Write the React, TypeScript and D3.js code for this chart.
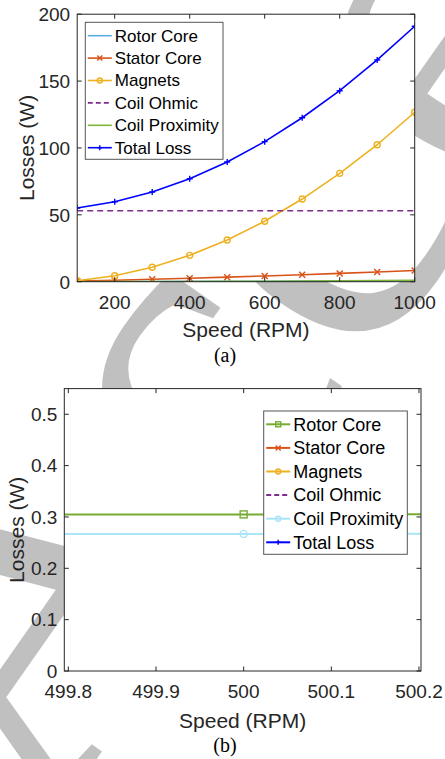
import React from 'react';
import * as d3 from 'd3';

// Speed sweep (RPM) and loss components (W)
const speedRpm = [100, 200, 300, 400, 500, 600, 700, 800, 900, 1000];
const rotorCore = [0.04, 0.1, 0.17, 0.24, 0.305, 0.38, 0.46, 0.55, 0.64, 0.74];
const statorCore = [0.5, 1.1, 1.8, 2.6, 3.4, 4.3, 5.2, 6.2, 7.2, 8.4];
const magnets = [0.75, 4.5, 10.8, 19.7, 31.2, 45.2, 61.8, 81.0, 102.4, 126.7];
const coilOhmic = [53.1, 53.1, 53.1, 53.1, 53.1, 53.1, 53.1, 53.1, 53.1, 53.1];
const coilProximity = [0.011, 0.043, 0.096, 0.171, 0.267, 0.384, 0.523, 0.683, 0.865, 1.068];
const totalLoss = [55.1, 59.8, 67.1, 77.0, 89.5, 104.7, 122.6, 142.8, 165.8, 191.0];

const seriesNames = ['Rotor Core', 'Stator Core', 'Magnets', 'Coil Ohmic', 'Coil Proximity', 'Total Loss'];
const seriesValues = [rotorCore, statorCore, magnets, coilOhmic, coilProximity, totalLoss];

// Tick values and labels
const xTicksA = [200, 400, 600, 800, 1000];
const xLabelsA = ['200', '400', '600', '800', '1000'];
const yTicksA = [0, 50, 100, 150, 200];
const yLabelsA = ['0', '50', '100', '150', '200'];
const xTicksB = [499.8, 499.9, 500, 500.1, 500.2];
const xLabelsB = ['499.8', '499.9', '500', '500.1', '500.2'];
const yTicksB = [0, 0.1, 0.2, 0.3, 0.4, 0.5];
const yLabelsB = ['0', '0.1', '0.2', '0.3', '0.4', '0.5'];

type Marker = 'none' | 'x' | 'o' | '+' | 's';
interface Style { color: string; marker: Marker; dash?: string; }

const stylesA: Style[] = [
  { color: '#5AAFE0', marker: 'none' },
  { color: '#D95319', marker: 'x' },
  { color: '#EDB120', marker: 'o' },
  { color: '#7E2F8E', marker: 'none', dash: '6,4' },
  { color: '#7FB73A', marker: 'none' },
  { color: '#0000FF', marker: '+' },
];
const stylesB: Style[] = [
  { color: '#77AC30', marker: 's' },
  { color: '#D95319', marker: 'x' },
  { color: '#EDB120', marker: 'o' },
  { color: '#7E2F8E', marker: 'none', dash: '6,4' },
  { color: '#A9E5F7', marker: 'o' },
  { color: '#0000FF', marker: '+' },
];

const AXIS = '#262626';
const FONT = '"Liberation Sans", Arial, Helvetica, sans-serif';

function MarkerGlyph({ m, x, y, color, size }: { m: Marker; x: number; y: number; color: string; size: number }) {
  const h = size / 2;
  if (m === 'x')
    return (
      <g stroke={color} strokeWidth={1.4}>
        <line x1={x - h} y1={y - h} x2={x + h} y2={y + h} />
        <line x1={x - h} y1={y + h} x2={x + h} y2={y - h} />
      </g>
    );
  if (m === '+')
    return (
      <g stroke={color} strokeWidth={1.4}>
        <line x1={x - h} y1={y} x2={x + h} y2={y} />
        <line x1={x} y1={y - h} x2={x} y2={y + h} />
      </g>
    );
  if (m === 'o') return <circle cx={x} cy={y} r={h} fill="none" stroke={color} strokeWidth={1.4} />;
  if (m === 's') return <rect x={x - h} y={y - h} width={size} height={size} fill="none" stroke={color} strokeWidth={1.4} />;
  return null;
}

interface PanelProps {
  id: string;
  left: number; right: number; top: number; bottom: number;
  xDomain: [number, number]; yDomain: [number, number];
  xTicks: number[]; xLabels: string[]; yTicks: number[]; yLabels: string[];
  styles: Style[]; lineWidth: number; markerSize: number;
  legend: { x: number; y: number; w: number; h: number; row0: number; step: number; font: number };
  yLabelX: number; xLabelY: number; caption: string; captionX: number; captionY: number;
}

function Panel(p: PanelProps) {
  const x = d3.scaleLinear().domain(p.xDomain).range([p.left, p.right]);
  const y = d3.scaleLinear().domain(p.yDomain).range([p.bottom, p.top]);
  const line = d3.line<number>().x((_, i) => x(speedRpm[i])).y((v) => y(v));
  const tick = 4.5;
  const cx = (p.left + p.right) / 2;
  const cy = (p.top + p.bottom) / 2;
  return (
    <g>
      <defs>
        <clipPath id={`clip-${p.id}`}>
          <rect x={p.left} y={p.top} width={p.right - p.left} height={p.bottom - p.top} />
        </clipPath>
      </defs>
      <rect x={p.left} y={p.top} width={p.right - p.left} height={p.bottom - p.top} fill="#fff" />
      <g clipPath={`url(#clip-${p.id})`}>
        {seriesValues.map((vals, si) => {
          const st = p.styles[si];
          return (
            <g key={si}>
              <path d={line(vals) || ''} fill="none" stroke={st.color} strokeWidth={p.lineWidth} strokeDasharray={st.dash} />
              {st.marker !== 'none' &&
                vals.map((v, i) => (
                  <MarkerGlyph key={i} m={st.marker} x={x(speedRpm[i])} y={y(v)} color={st.color} size={p.markerSize} />
                ))}
            </g>
          );
        })}
      </g>
      {/* axes box and inward ticks */}
      <rect x={p.left} y={p.top} width={p.right - p.left} height={p.bottom - p.top} fill="none" stroke={AXIS} strokeWidth={1} />
      {p.xTicks.map((t, i) => (
        <g key={`xt${i}`}>
          <line x1={x(t)} x2={x(t)} y1={p.bottom} y2={p.bottom - tick} stroke={AXIS} />
          <line x1={x(t)} x2={x(t)} y1={p.top} y2={p.top + tick} stroke={AXIS} />
          <text x={x(t)} y={p.bottom + 27} textAnchor="middle" fontFamily={FONT} fontSize={19} fill={AXIS}>
            {p.xLabels[i]}
          </text>
        </g>
      ))}
      {p.yTicks.map((t, i) => (
        <g key={`yt${i}`}>
          <line x1={p.left} x2={p.left + tick} y1={y(t)} y2={y(t)} stroke={AXIS} />
          <line x1={p.right} x2={p.right - tick} y1={y(t)} y2={y(t)} stroke={AXIS} />
          <text x={p.left - 7} y={y(t) + 6.8} textAnchor="end" fontFamily={FONT} fontSize={19} fill={AXIS}>
            {p.yLabels[i]}
          </text>
        </g>
      ))}
      <text x={cx} y={p.xLabelY} textAnchor="middle" fontFamily={FONT} fontSize={21} fill={AXIS}>
        Speed (RPM)
      </text>
      <text transform={`translate(${p.yLabelX},${cy}) rotate(-90)`} textAnchor="middle" fontFamily={FONT} fontSize={21} fill={AXIS}>
        Losses (W)
      </text>
      {/* legend */}
      <rect x={p.legend.x} y={p.legend.y} width={p.legend.w} height={p.legend.h} fill="#fff" stroke="#555" strokeWidth={1} />
      {seriesNames.map((name, i) => {
        const st = p.styles[i];
        const ry = p.legend.y + p.legend.row0 + i * p.legend.step;
        const lx0 = p.legend.x + 2.5;
        const lx1 = lx0 + 24;
        return (
          <g key={`lg${i}`}>
            <line x1={lx0} x2={lx1} y1={ry} y2={ry} stroke={st.color} strokeWidth={p.lineWidth} strokeDasharray={st.dash ? '5,3' : undefined} />
            {st.marker !== 'none' && <MarkerGlyph m={st.marker} x={(lx0 + lx1) / 2} y={ry} color={st.color} size={5} />}
            <text x={lx1 + 3} y={ry + p.legend.font * 0.35} fontFamily={FONT} fontSize={p.legend.font} fill="#000">
              {name}
            </text>
          </g>
        );
      })}
      <text x={p.captionX} y={p.captionY} textAnchor="middle" fontFamily='"Liberation Serif", "Times New Roman", serif' fontSize={20} fill="#000">
        {p.caption}
      </text>
    </g>
  );
}

export default function App() {
  return (
    <svg width={445} height={759} style={{ position: 'absolute', left: 0, top: 0, background: '#fff' }}>
      <rect width={445} height={759} fill="#fff" />
      {/* page watermark, sits behind both axes */}
      <text
        transform="translate(40,840) rotate(-55)"
        fontFamily='"Liberation Serif", "Times New Roman", serif'
        fontSize={480}
        fill="#c0c0c0"
      >
        Accepted Manuscript
      </text>
      <Panel
        id="a"
        left={77.2} right={414.7} top={14.2} bottom={281.7}
        xDomain={[100, 1000]} yDomain={[0, 200]}
        xTicks={xTicksA} xLabels={xLabelsA} yTicks={yTicksA} yLabels={yLabelsA}
        styles={stylesA} lineWidth={1.6} markerSize={6}
        legend={{ x: 85.3, y: 22.3, w: 137.7, h: 137, row0: 13.4, step: 22.4, font: 17 }}
        yLabelX={34} xLabelY={336.7} caption="(a)" captionX={225} captionY={362}
      />
      <Panel
        id="b"
        left={64.3} right={421} top={388.6} bottom={671}
        xDomain={[499.7954, 500.2023]} yDomain={[0, 0.55]}
        xTicks={xTicksB} xLabels={xLabelsB} yTicks={yTicksB} yLabels={yLabelsB}
        styles={stylesB} lineWidth={2} markerSize={7}
        legend={{ x: 263.7, y: 411, w: 143.6, h: 143.3, row0: 13.3, step: 23.6, font: 18 }}
        yLabelX={24} xLabelY={727.7} caption="(b)" captionX={225} captionY={752}
      />
    </svg>
  );
}
